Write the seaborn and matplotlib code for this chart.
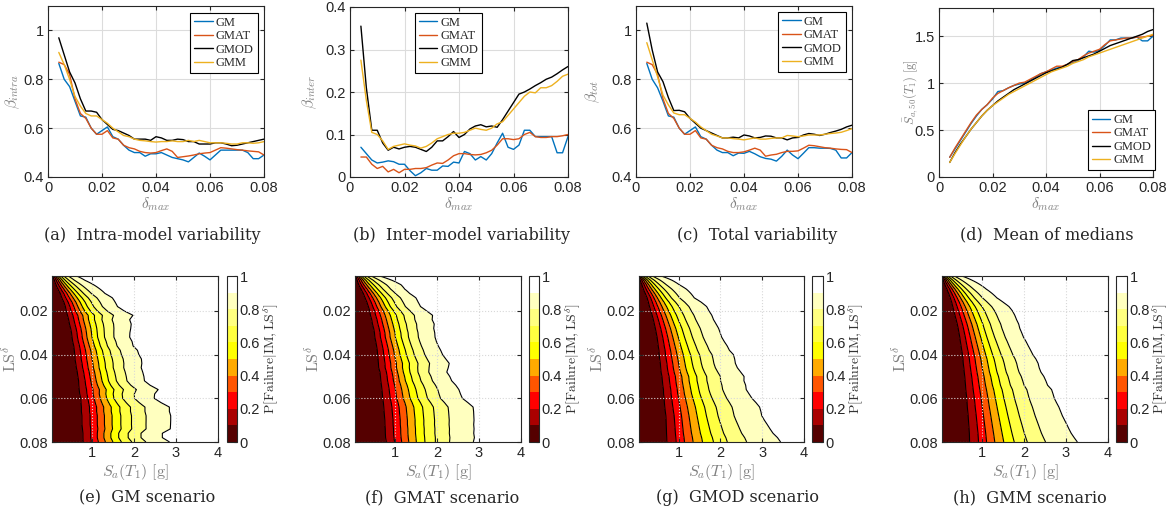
import math
import numpy as np
import pandas as pd
import seaborn as sns
import matplotlib.pyplot as plt
from matplotlib.ticker import FuncFormatter

# drift levels (x axis of top row, y axis of bottom row)
delta = np.linspace(0.004, 0.08, 39)
models = ['GM', 'GMAT', 'GMOD', 'GMM']

# (a) intra-model dispersion
intra_gm = [0.865, 0.80, 0.77, 0.71, 0.65, 0.645, 0.60, 0.575, 0.59, 0.605, 0.565, 0.555, 0.53, 0.51, 0.50,
            0.50, 0.485, 0.495, 0.495, 0.50, 0.49, 0.48, 0.475, 0.47, 0.462, 0.48, 0.498, 0.485, 0.47, 0.49,
            0.51, 0.51, 0.51, 0.51, 0.51, 0.50, 0.475, 0.475, 0.49]
intra_gmat = [0.87, 0.86, 0.82, 0.72, 0.66, 0.64, 0.60, 0.575, 0.575, 0.59, 0.56, 0.555, 0.53, 0.52, 0.515,
              0.505, 0.50, 0.498, 0.50, 0.508, 0.515, 0.505, 0.48, 0.483, 0.486, 0.49, 0.495, 0.498, 0.50, 0.51,
              0.52, 0.518, 0.515, 0.512, 0.51, 0.507, 0.505, 0.503, 0.49]
intra_gmod = [0.97, 0.90, 0.83, 0.785, 0.72, 0.67, 0.67, 0.665, 0.635, 0.615, 0.595, 0.59, 0.58, 0.57, 0.555,
              0.555, 0.555, 0.55, 0.565, 0.56, 0.55, 0.55, 0.555, 0.553, 0.545, 0.545, 0.535, 0.535, 0.535, 0.54,
              0.54, 0.535, 0.528, 0.53, 0.535, 0.54, 0.545, 0.55, 0.555]
intra_gmm = [0.91, 0.86, 0.80, 0.73, 0.69, 0.66, 0.65, 0.65, 0.635, 0.62, 0.60, 0.585, 0.57, 0.565, 0.555,
             0.55, 0.548, 0.545, 0.543, 0.545, 0.545, 0.548, 0.545, 0.545, 0.55, 0.545, 0.55, 0.545, 0.54, 0.54,
             0.54, 0.538, 0.535, 0.535, 0.54, 0.54, 0.538, 0.54, 0.545]

# (b) inter-model dispersion
inter_gm = [0.07, 0.055, 0.04, 0.033, 0.035, 0.038, 0.036, 0.03, 0.03, 0.015, 0.003, 0.01, 0.02, 0.016, 0.016,
            0.026, 0.025, 0.035, 0.033, 0.06, 0.055, 0.04, 0.048, 0.04, 0.055, 0.08, 0.103, 0.07, 0.065, 0.075,
            0.11, 0.11, 0.095, 0.095, 0.095, 0.095, 0.057, 0.057, 0.095]
inter_gmat = [0.047, 0.047, 0.03, 0.02, 0.025, 0.012, 0.018, 0.01, 0.018, 0.018, 0.02, 0.02, 0.022, 0.028, 0.033,
              0.032, 0.04, 0.05, 0.055, 0.055, 0.053, 0.052, 0.053, 0.057, 0.063, 0.075, 0.09, 0.09, 0.088, 0.09,
              0.10, 0.105, 0.095, 0.093, 0.093, 0.095, 0.095, 0.097, 0.10]
inter_gmod = [0.355, 0.21, 0.11, 0.11, 0.08, 0.063, 0.07, 0.066, 0.07, 0.072, 0.07, 0.065, 0.06, 0.07, 0.085,
              0.085, 0.095, 0.107, 0.093, 0.10, 0.113, 0.12, 0.123, 0.118, 0.12, 0.117, 0.135, 0.155, 0.175, 0.195,
              0.20, 0.207, 0.215, 0.222, 0.23, 0.235, 0.243, 0.252, 0.26]
inter_gmm = [0.275, 0.18, 0.105, 0.10, 0.085, 0.065, 0.072, 0.075, 0.078, 0.075, 0.073, 0.068, 0.072, 0.08, 0.09,
             0.095, 0.10, 0.103, 0.103, 0.105, 0.11, 0.115, 0.112, 0.11, 0.115, 0.125, 0.13, 0.145, 0.16, 0.175,
             0.19, 0.20, 0.198, 0.21, 0.21, 0.215, 0.225, 0.237, 0.242]

# (c) total dispersion
tot_gm = [0.865, 0.80, 0.765, 0.71, 0.65, 0.645, 0.60, 0.575, 0.59, 0.605, 0.565, 0.555, 0.53, 0.51, 0.50,
          0.50, 0.487, 0.498, 0.497, 0.505, 0.495, 0.483, 0.476, 0.473, 0.465, 0.485, 0.51, 0.49, 0.475, 0.497,
          0.52, 0.52, 0.518, 0.518, 0.517, 0.51, 0.478, 0.478, 0.50]
tot_gmat = [0.87, 0.86, 0.82, 0.72, 0.66, 0.64, 0.60, 0.575, 0.575, 0.59, 0.56, 0.555, 0.53, 0.52, 0.515,
            0.505, 0.50, 0.50, 0.503, 0.51, 0.518, 0.51, 0.485, 0.49, 0.493, 0.50, 0.505, 0.505, 0.507, 0.518,
            0.53, 0.528, 0.524, 0.52, 0.518, 0.515, 0.513, 0.512, 0.50]
tot_gmod = [1.03, 0.92, 0.83, 0.79, 0.725, 0.672, 0.673, 0.667, 0.64, 0.62, 0.60, 0.59, 0.58, 0.57, 0.56,
            0.56, 0.563, 0.56, 0.572, 0.568, 0.56, 0.562, 0.568, 0.567, 0.56, 0.56, 0.552, 0.56, 0.562, 0.572,
            0.578, 0.575, 0.57, 0.575, 0.582, 0.588, 0.595, 0.605, 0.612]
tot_gmm = [0.95, 0.88, 0.81, 0.735, 0.695, 0.662, 0.655, 0.655, 0.64, 0.625, 0.605, 0.59, 0.575, 0.568, 0.56,
           0.56, 0.557, 0.555, 0.552, 0.556, 0.56, 0.555, 0.555, 0.558, 0.56, 0.56, 0.57, 0.568, 0.565, 0.568,
           0.572, 0.572, 0.572, 0.575, 0.578, 0.58, 0.583, 0.59, 0.598]

# (d) mean of medians [g]
med_gm = [0.21, 0.30, 0.39, 0.48, 0.57, 0.65, 0.72, 0.77, 0.83, 0.91, 0.92, 0.95, 0.975, 0.99, 1.0,
          1.03, 1.06, 1.10, 1.12, 1.14, 1.16, 1.17, 1.20, 1.22, 1.24, 1.28, 1.34, 1.33, 1.35, 1.40,
          1.46, 1.46, 1.48, 1.48, 1.48, 1.49, 1.45, 1.45, 1.50]
med_gmat = [0.21, 0.31, 0.40, 0.49, 0.58, 0.66, 0.72, 0.77, 0.84, 0.89, 0.92, 0.95, 0.975, 1.0, 1.01,
            1.04, 1.07, 1.10, 1.12, 1.15, 1.18, 1.18, 1.20, 1.23, 1.25, 1.29, 1.32, 1.34, 1.36, 1.41,
            1.45, 1.46, 1.47, 1.48, 1.48, 1.49, 1.49, 1.50, 1.51]
med_gmod = [0.155, 0.26, 0.35, 0.43, 0.51, 0.58, 0.65, 0.71, 0.76, 0.81, 0.85, 0.89, 0.93, 0.96, 0.99,
            1.02, 1.05, 1.08, 1.11, 1.13, 1.15, 1.17, 1.20, 1.24, 1.25, 1.27, 1.29, 1.31, 1.34, 1.37,
            1.40, 1.42, 1.44, 1.46, 1.48, 1.50, 1.52, 1.55, 1.57]
med_gmm = [0.155, 0.25, 0.34, 0.43, 0.51, 0.58, 0.65, 0.71, 0.76, 0.80, 0.84, 0.88, 0.91, 0.94, 0.97,
           1.0, 1.03, 1.06, 1.09, 1.12, 1.14, 1.16, 1.18, 1.21, 1.23, 1.25, 1.28, 1.30, 1.32, 1.34,
           1.36, 1.38, 1.40, 1.42, 1.44, 1.46, 1.48, 1.50, 1.52]

colors = ['#0072BD', '#D95319', '#000000', '#EDB120']
hot10 = [(1/3, 0, 0), (2/3, 0, 0), (1, 0, 0), (1, 1/3, 0), (1, 2/3, 0),
         (1, 1, 0), (1, 1, 0.25), (1, 1, 0.5), (1, 1, 0.75), (1, 1, 1)]

sns.set_style('ticks')
plt.rcParams['font.family'] = ['Liberation Sans', 'DejaVu Sans']
plt.rcParams['mathtext.fontset'] = 'cm'
plt.rcParams['axes.linewidth'] = 0.8
plt.rcParams['xtick.direction'] = 'in'
plt.rcParams['ytick.direction'] = 'in'

W, H = 1173, 515
fig = plt.figure(figsize=(W / 100, H / 100), dpi=100)


def px_axes(l, t, r, b):
    return fig.add_axes([l / W, 1 - b / H, (r - l) / W, (b - t) / H])


fmt = FuncFormatter(lambda v, p: '%g' % round(v, 4))
lab_col = '#7f7f7f'
tick_size = 10.5
cap_font = dict(family='DejaVu Serif', fontsize=11.6, ha='center', va='center')


def top_panel(box, series, ylim, yticks, ylabel, ylab_size, ylab_px, leg_loc, leg_anchor, caption, cap_x):
    ax = px_axes(*box)
    df = pd.DataFrame({'delta': np.tile(delta, 4),
                       'value': np.concatenate(series),
                       'model': np.repeat(models, len(delta))})
    sns.lineplot(data=df, x='delta', y='value', hue='model', palette=colors,
                 linewidth=1.0, ax=ax)
    ax.set_xlim(0, 0.08)
    ax.set_ylim(*ylim)
    ax.set_xticks([0, 0.02, 0.04, 0.06, 0.08])
    ax.set_yticks(yticks)
    ax.xaxis.set_major_formatter(fmt)
    ax.yaxis.set_major_formatter(fmt)
    ax.tick_params(labelsize=tick_size, length=3, top=True, right=True, pad=3)
    ax.grid(True, color='#dcdcdc', linewidth=0.8)
    ax.set_axisbelow(True)
    ax.set_xlabel(r'$\delta_{max}$', color=lab_col, fontsize=11)
    ax.set_ylabel(ylabel, color=lab_col, fontsize=ylab_size)
    l, t, r, b = box
    ax.xaxis.set_label_coords(0.5, -18 / (b - t))
    ax.yaxis.set_label_coords((ylab_px - l) / (r - l), 0.5)
    h, lab = ax.get_legend_handles_labels()
    leg = ax.legend(h, lab, loc=leg_loc, bbox_to_anchor=leg_anchor, frameon=True, fancybox=False,
                    framealpha=1, edgecolor='black', prop={'family': 'Liberation Serif', 'size': 9},
                    handlelength=1.5, handletextpad=0.25, labelspacing=0.12, borderpad=0.3,
                    borderaxespad=0)
    leg.get_frame().set_linewidth(0.8)
    fig.text(cap_x / W, 1 - 235 / H, caption, **cap_font)
    return ax


top_panel((48, 6, 264, 177), [intra_gm, intra_gmat, intra_gmod, intra_gmm], (0.4, 1.1),
          [0.4, 0.6, 0.8, 1.0], r'$\beta_{intra}$', 11, 22, 'upper right', (0.97, 0.96),
          '(a)  Intra-model variability', 152)
top_panel((350, 7, 568, 177), [inter_gm, inter_gmat, inter_gmod, inter_gmm], (0, 0.4),
          [0, 0.1, 0.2, 0.3, 0.4], r'$\beta_{inter}$', 11, 319, 'upper right', (0.606, 0.965),
          '(b)  Inter-model variability', 462)
top_panel((636, 6, 852, 177), [tot_gm, tot_gmat, tot_gmod, tot_gmm], (0.4, 1.1),
          [0.4, 0.6, 0.8, 1.0], r'$\beta_{tot}$', 11, 602, 'upper right', (0.97, 0.965),
          '(c)  Total variability', 757)
top_panel((939, 8, 1153, 177), [med_gm, med_gmat, med_gmod, med_gmm], (0, 1.8),
          [0, 0.5, 1, 1.5], r'$\bar{S}_{a,50}(T_1)\ [\mathrm{g}]$', 9, 920, 'lower right', (1.01, 0.04),
          '(d)  Mean of medians', 1047)

# bottom row: lognormal fragility surfaces from the medians and total dispersions
sa = np.linspace(0.05, 4, 500)
erf = np.frompyfunc(math.erf, 1, 1)
scen = [
    ((52, 276, 218, 442), (227, 237), med_gm, tot_gm, '(e)  GM scenario', 147),
    ((355, 276, 521, 442), (529, 539), med_gmat, tot_gmat, '(f)  GMAT scenario', 442),
    ((639, 276, 804, 442), (812, 823), med_gmod, tot_gmod, '(g)  GMOD scenario', 737),
    ((942, 276, 1108, 442), (1116, 1127), med_gmm, tot_gmm, '(h)  GMM scenario', 1030),
]
levels = np.linspace(0, 1, 11)
for box, cb, med, beta, caption, cap_x in scen:
    l, t, r, b = box
    ax = px_axes(*box)
    m = np.array(med)[:, None]
    bb = np.array(beta)[:, None]
    z = np.log(sa[None, :] / m) / (bb * np.sqrt(2))
    p = (0.5 * (1 + erf(z))).astype(float)
    cs = ax.contourf(sa, delta, p, levels=levels, colors=hot10)
    ax.contour(sa, delta, p, levels=levels[1:-1], colors='black', linewidths=0.8)
    ax.set_xlim(0.05, 4)
    ax.set_ylim(0.08, 0.004)
    ax.set_xticks([1, 2, 3, 4])
    ax.set_yticks([0.02, 0.04, 0.06, 0.08])
    ax.xaxis.set_major_formatter(fmt)
    ax.yaxis.set_major_formatter(fmt)
    ax.tick_params(labelsize=tick_size, length=3, top=True, right=True, pad=3)
    ax.grid(True, color='#d8d8d8', linestyle=':', linewidth=0.8)
    ax.set_axisbelow(False)
    ax.set_xlabel(r'$S_a(T_1)\ [\mathrm{g}]$', color=lab_col, fontsize=11.5)
    ax.set_ylabel(r'$\mathrm{LS}^{\delta}$', color=lab_col, fontsize=11.5)
    ax.xaxis.set_label_coords(0.5, -20 / (b - t))
    ax.yaxis.set_label_coords(-33 / (r - l), 0.5)
    cax = px_axes(cb[0], 276, cb[1], 442)
    cbar = fig.colorbar(cs, cax=cax, ticks=[0, 0.2, 0.4, 0.6, 0.8, 1])
    cbar.ax.yaxis.set_major_formatter(fmt)
    cbar.ax.tick_params(labelsize=tick_size, length=2, direction='in', pad=2)
    cbar.outline.set_linewidth(0.8)
    cbar.set_label(r'$\mathrm{P}[\mathrm{Failure}|\mathrm{IM},\mathrm{LS}^{\delta}]$',
                   fontsize=10, color='#333333')
    cbar.ax.yaxis.set_label_coords(35 / (cb[1] - cb[0]), 0.5)
    fig.text(cap_x / W, 1 - 498 / H, caption, **cap_font)

fig.savefig('out.png', dpi=100)
